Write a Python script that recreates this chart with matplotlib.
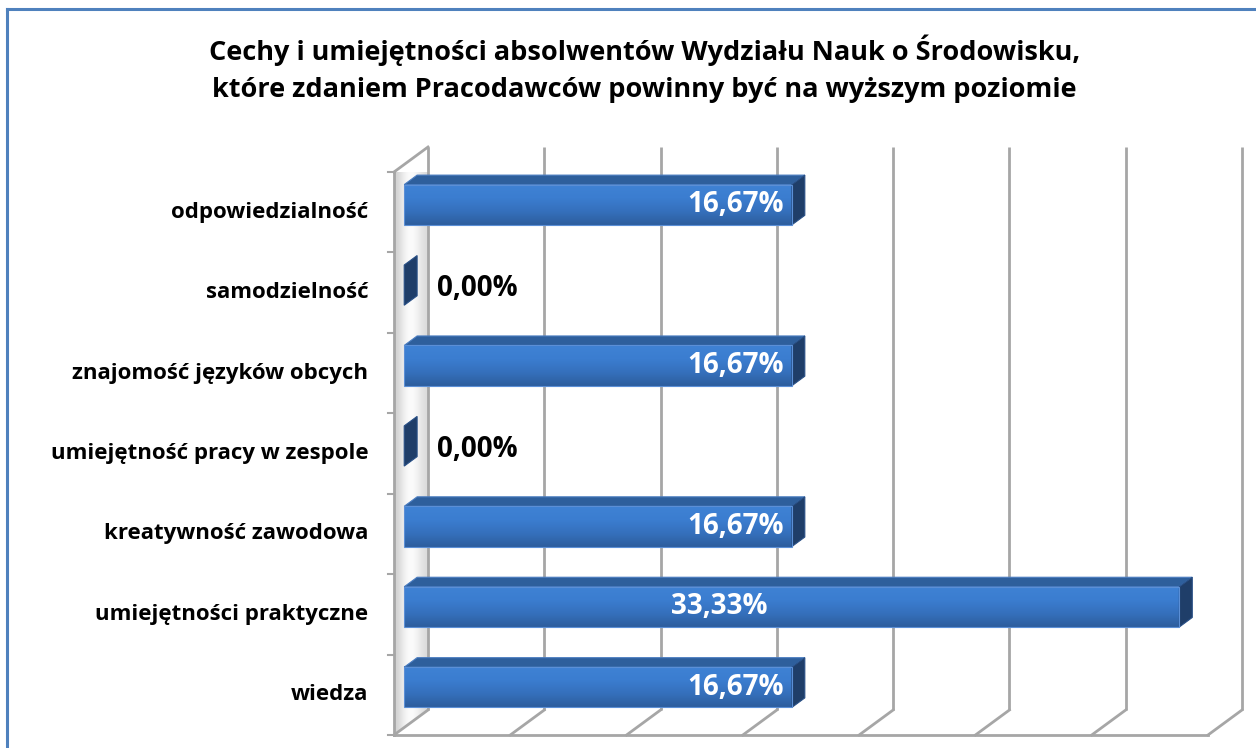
"""
Wykres słupkowy 3D (imitacja wykresu z Excela) - cechy absolwentów.
"""
import numpy as np
import matplotlib
matplotlib.use("Agg")
import matplotlib.pyplot as plt
from matplotlib.patches import Polygon
from matplotlib.colors import LinearSegmentedColormap

# dane, od góry wykresu
kategorie = [
    "odpowiedzialność",
    "samodzielność",
    "znajomość języków obcych",
    "umiejętność pracy w zespole",
    "kreatywność zawodowa",
    "umiejętności praktyczne",
    "wiedza",
]
wartosci = [16.67, 0.0, 16.67, 0.0, 16.67, 33.33, 16.67]
os_max = 35
krok = 5

tytul_1 = "Cechy i umiejętności absolwentów Wydziału Nauk o Środowisku,"
tytul_2 = " które zdaniem Pracodawców powinny być na wyższym poziomie"

plt.rcParams["font.family"] = ["Open Sans", "DejaVu Sans"]

W, H = 1256, 748
fig = plt.figure(figsize=(W / 100, H / 100), dpi=100)
ax = fig.add_axes([394 / W, 13 / H, 814 / W, 563 / H])
n = len(kategorie)

# przesunięcie "w głąb" (rzut ukośny) w jednostkach danych
DX = 34 / 814 * os_max
DY = 25 / 563 * n
f1, f2 = 0.3, 0.68      # przód i tył słupka (ułamek głębokości)
pol = 0.25              # połowa wysokości słupka

kolor_siatki = "#A6A6A6"

# ściana lewa z gradientem
grad = np.array([[0.82, 0.95, 1.0, 0.95, 0.86]])
cm_sciana = LinearSegmentedColormap.from_list("sciana", ["#BFBFBF", "#FFFFFF"])
sciana = Polygon([(0, -0.5), (DX, -0.5 + DY), (DX, n - 0.5 + DY), (0, n - 0.5)],
                 closed=True, facecolor="none", edgecolor="none")
ax.add_patch(sciana)
im = ax.imshow(grad, cmap=cm_sciana, vmin=0.75, vmax=1.0, aspect="auto",
               extent=[0, DX, -0.5, n - 0.5 + DY], zorder=0.5, interpolation="bicubic")
im.set_clip_path(sciana)

# siatka: tylna ściana i podłoga
for v in range(0, os_max + 1, krok):
    ax.plot([v + DX, v + DX], [-0.5 + DY, n - 0.5 + DY], color=kolor_siatki, lw=2, zorder=1,
            clip_on=False, solid_capstyle="butt")
    ax.plot([v, v + DX], [-0.5, -0.5 + DY], color=kolor_siatki, lw=2, zorder=1, clip_on=False)
ax.plot([0, os_max], [-0.5, -0.5], color=kolor_siatki, lw=2, zorder=1, clip_on=False)
ax.plot([0, 0], [-0.5, n - 0.5], color=kolor_siatki, lw=2, zorder=1, clip_on=False)
ax.plot([0, DX], [n - 0.5, n - 0.5 + DY], color=kolor_siatki, lw=2, zorder=1, clip_on=False)
for k in range(n + 1):
    ax.plot([-0.25, 0], [k - 0.5, k - 0.5], color=kolor_siatki, lw=1.5, zorder=1, clip_on=False)

# słupki
cm_przod = LinearSegmentedColormap.from_list(
    "przod", ["#2D5E9E", "#3570BC", "#3B7DD0", "#3F82D4"])
gl = np.linspace(0, 1, 64).reshape(-1, 1)
ddx, ddy = (f2 - f1) * DX, (f2 - f1) * DY

for i, (kat, v) in enumerate(zip(kategorie, wartosci)):
    y = n - 1 - i
    y0, y1 = y - pol + f1 * DY, y + pol + f1 * DY
    x0, x1 = f1 * DX, v + f1 * DX
    if v > 0:
        ax.imshow(gl, cmap=cm_przod, aspect="auto", extent=[x0, x1, y0, y1],
                  origin="lower", zorder=3)
        ax.add_patch(Polygon([(x0, y0), (x1, y0), (x1, y1), (x0, y1)], closed=True,
                             facecolor="none", edgecolor="#5B8FD6", lw=0.8, zorder=3.2))
        ax.add_patch(Polygon([(x0, y1), (x1, y1), (x1 + ddx, y1 + ddy), (x0 + ddx, y1 + ddy)],
                             closed=True, facecolor="#2E5F9C", edgecolor="#4A7CC0",
                             lw=0.8, zorder=3))
    ax.add_patch(Polygon([(x1, y0), (x1 + ddx, y0 + ddy), (x1 + ddx, y1 + ddy), (x1, y1)],
                         closed=True, facecolor="#1F3E69", edgecolor="#284F86",
                         lw=0.8, zorder=3.1))

    etykieta = f"{v:.2f}%".replace(".", ",")
    if v == 0:
        ax.text(x1 + 1.4, y + 0.05, etykieta, ha="left", va="center", fontsize=20,
                fontweight="bold", color="black", zorder=4)
    elif v > 20:
        ax.text(v * 0.42, (y0 + y1) / 2, etykieta, ha="center", va="center", fontsize=20,
                fontweight="bold", color="white", zorder=4)
    else:
        ax.text(x1 - 0.35, (y0 + y1) / 2, etykieta, ha="right", va="center", fontsize=20,
                fontweight="bold", color="white", zorder=4)

    ax.text(-1.1, y, kat, ha="right", va="center", fontsize=16, fontweight="bold",
            color="black")

ax.set_xlim(0, os_max)
ax.set_ylim(-0.5, n - 0.5)
ax.axis("off")

# tytuł
fig.text(645 / W, 1 - 50 / H, tytul_1, ha="center", va="center", fontsize=19.5,
         fontweight="bold")
fig.text(641 / W, 1 - 90 / H, tytul_2, ha="center", va="center", fontsize=19.5,
         fontweight="bold")

# ramka wykresu
fig.add_artist(plt.Line2D([7 / W, 7 / W], [0, 1 - 9 / H], color="#4F81BD", lw=2.2))
fig.add_artist(plt.Line2D([7 / W, 1], [1 - 9 / H, 1 - 9 / H], color="#4F81BD", lw=2.2))

fig.savefig("out.png", dpi=100)
plt.close(fig)
